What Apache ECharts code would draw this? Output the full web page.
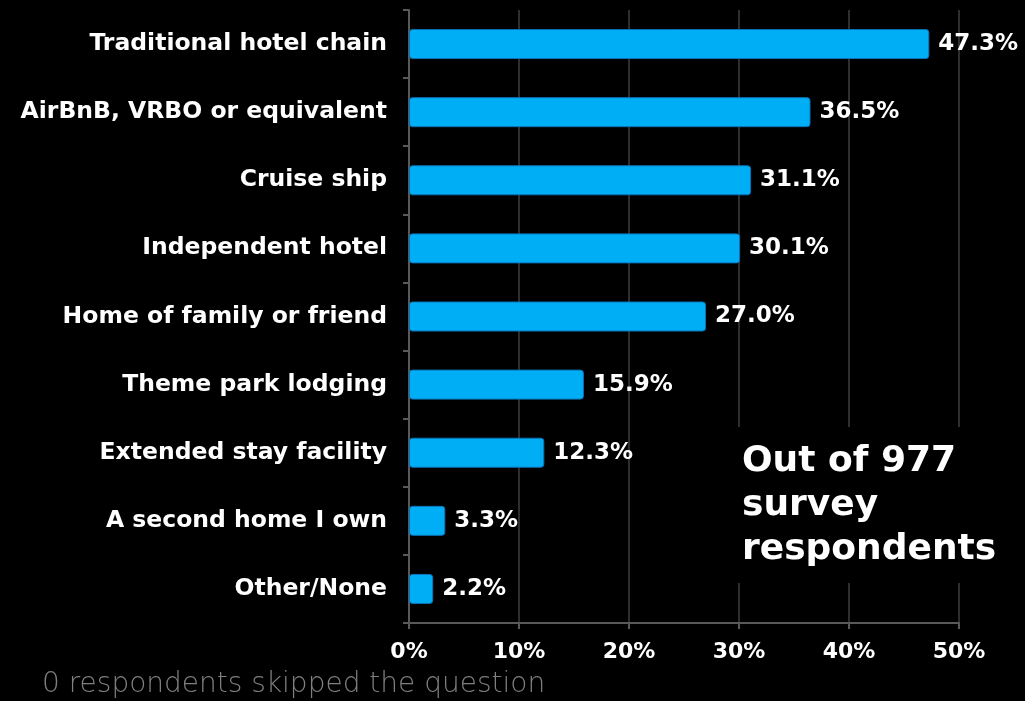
<!DOCTYPE html>
<html>
<head>
<meta charset="utf-8">
<script src="https://cdn.jsdelivr.net/npm/echarts@6/dist/echarts.min.js"></script>
<style>
  html, body { margin: 0; padding: 0; background: #000; }
  #chart { width: 1025px; height: 701px; }
</style>
</head>
<body>
<div id="chart"></div>
<script>
// Lodging types, listed top to bottom
const categories = [
  'Traditional hotel chain',
  'AirBnB, VRBO or equivalent',
  'Cruise ship',
  'Independent hotel',
  'Home of family or friend',
  'Theme park lodging',
  'Extended stay facility',
  'A second home I own',
  'Other/None'
];
// Share of respondents (%)
const shares = [47.3, 36.5, 31.1, 30.1, 27.0, 15.9, 12.3, 3.3, 2.2];
const axisTicks = [0, 10, 20, 30, 40, 50];
const noteLines = ['Out of 977', 'survey', 'respondents'];
const footnote = '0 respondents skipped the question';

const chart = echarts.init(document.getElementById('chart'));
const boldFont = 'DejaVu Sans';
const axisColor = '#595959';

chart.setOption({
  backgroundColor: '#000000',
  animation: false,
  grid: { left: 409, right: 66, top: 10, bottom: 78, containLabel: false },
  xAxis: {
    type: 'value',
    min: axisTicks[0],
    max: axisTicks[axisTicks.length - 1],
    interval: 10,
    axisLine: { show: true, lineStyle: { color: axisColor, width: 2 } },
    axisTick: { show: true, length: 6, lineStyle: { color: axisColor, width: 2 } },
    splitLine: { show: true, lineStyle: { color: '#2e2e2e', width: 2 } },
    axisLabel: {
      color: '#ffffff', fontFamily: boldFont, fontWeight: 'bold', fontSize: 22,
      margin: 18, formatter: v => v + '%'
    }
  },
  yAxis: {
    type: 'category',
    inverse: true,
    data: categories,
    axisLine: { show: true, lineStyle: { color: axisColor, width: 2 } },
    axisTick: { show: true, length: 6, alignWithLabel: false, lineStyle: { color: axisColor, width: 2 } },
    axisLabel: {
      color: '#ffffff', fontFamily: boldFont, fontWeight: 'bold', fontSize: 23.5, margin: 22
    }
  },
  series: [{
    type: 'bar',
    data: shares,
    barWidth: 30,
    itemStyle: { color: '#00AEF5', borderColor: '#0A74B8', borderWidth: 1, borderRadius: 3 },
    label: {
      show: true, position: 'right', distance: 9,
      color: '#ffffff', fontFamily: boldFont, fontWeight: 'bold', fontSize: 23,
      formatter: p => p.value.toFixed(1) + '%'
    }
  }],
  graphic: [
    {
      type: 'rect', z: 10,
      shape: { x: 720, y: 427, width: 290, height: 156 },
      style: { fill: '#000000' }
    },
    {
      type: 'text', z: 11, left: 742, top: 440,
      style: {
        text: noteLines.join('\n'), fill: '#ffffff',
        font: 'bold 36px "DejaVu Sans"', lineHeight: 44
      }
    },
    {
      type: 'text', z: 11, left: 42, top: 671,
      style: {
        text: footnote, fill: '#7f7f7f',
        font: '200 28px "DejaVu Sans"'
      }
    }
  ]
});
</script>
</body>
</html>
